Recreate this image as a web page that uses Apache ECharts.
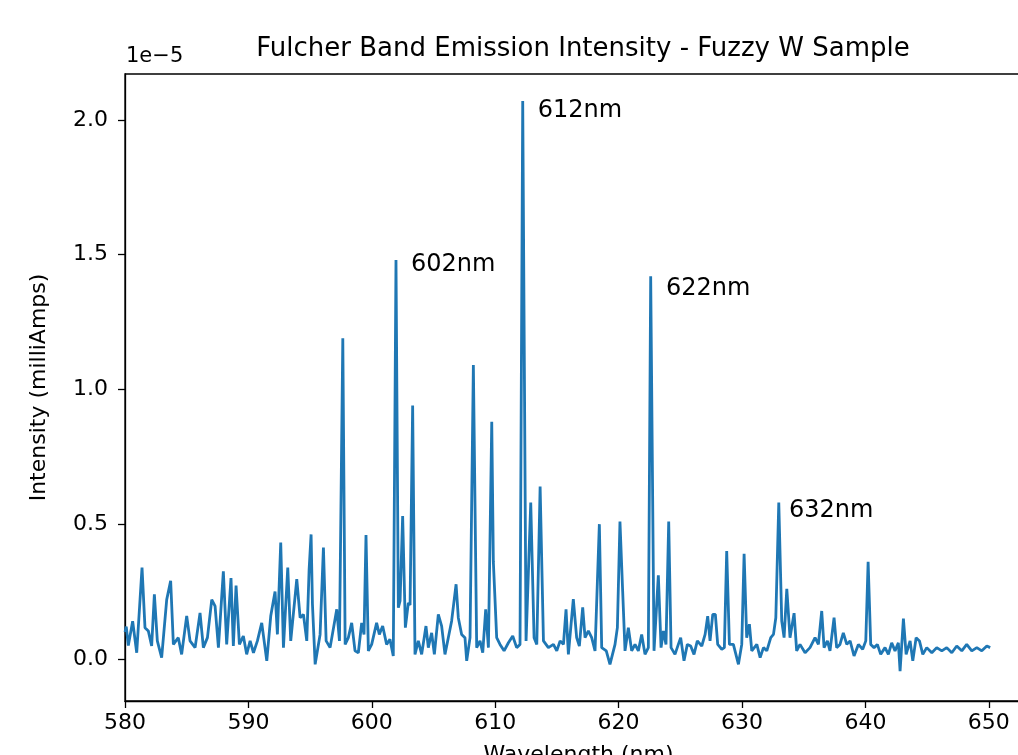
<!DOCTYPE html>
<html>
<head>
<meta charset="utf-8">
<script src="https://cdn.jsdelivr.net/npm/echarts@6/dist/echarts.min.js"></script>
<style>
html,body{margin:0;padding:0;background:#fff;}
#chart{width:1018px;height:755px;}
</style>
</head>
<body>
<div id="chart"></div>
<script>
// Wavelength (nm)
const wavelengths = [
580.0,580.1,580.27,580.62,580.95,581.38,581.62,581.89,582.16,582.38,582.62,582.97,583.38,583.7,583.92,584.32,584.59,585.0,585.27,585.68,
586.08,586.35,586.68,587.03,587.3,587.57,587.97,588.24,588.59,588.78,589.0,589.27,589.59,589.86,590.14,590.41,590.73,591.08,591.49,591.81,
592.16,592.35,592.62,592.84,593.19,593.43,593.92,594.19,594.46,594.73,594.92,595.08,595.19,595.41,595.81,596.08,596.3,596.62,597.16,597.38,
597.65,597.84,598.1,598.37,598.64,598.91,599.18,599.37,599.53,599.72,599.99,600.39,600.61,600.88,601.2,601.47,601.74,601.96,602.15,602.29,
602.5,602.72,602.96,603.1,603.31,603.5,603.77,604.04,604.39,604.58,604.85,605.07,605.39,605.66,605.93,606.2,606.47,606.83,607.01,607.28,
607.55,607.69,607.96,608.23,608.5,608.77,608.99,609.23,609.45,609.72,609.85,610.12,610.39,610.72,611.07,611.42,611.74,612.01,612.23,612.5,
612.88,613.15,613.37,613.64,613.91,614.31,614.72,614.99,615.26,615.53,615.74,615.93,616.33,616.6,616.82,617.09,617.28,617.55,617.82,618.09,
618.44,618.63,619.0,619.3,619.71,619.9,620.11,620.33,620.52,620.79,621.06,621.33,621.6,621.87,622.14,622.41,622.6,622.87,623.22,623.44,
623.63,623.84,624.06,624.25,624.57,624.84,625.03,625.3,625.57,625.84,626.11,626.38,626.74,627.01,627.22,627.41,627.63,627.84,628.03,628.36,
628.57,628.76,628.98,629.3,629.71,629.98,630.17,630.38,630.6,630.79,631.2,631.47,631.74,632.01,632.33,632.55,632.74,632.98,633.22,633.41,
633.63,633.89,634.22,634.43,634.7,635.11,635.51,635.92,636.19,636.46,636.65,636.92,637.13,637.46,637.67,637.94,638.21,638.49,638.76,639.08,
639.43,639.78,640.03,640.22,640.43,640.7,640.97,641.24,641.59,641.86,642.13,642.4,642.67,642.81,643.08,643.3,643.62,643.84,644.11,644.38,
644.65,644.97,645.38,645.78,646.19,646.59,647.0,647.4,647.81,648.21,648.62,649.03,649.43,649.84,650.11
];
// Intensity in units of 1e-5 milliAmps
const intensities = [
0.10,0.12,0.05,0.14,0.023,0.339,0.116,0.104,0.048,0.24,0.067,0.005,0.22,0.29,0.054,0.079,0.017,0.16,0.067,0.042,
0.171,0.042,0.079,0.22,0.196,0.042,0.325,0.054,0.30,0.048,0.272,0.054,0.085,0.017,0.067,0.023,0.067,0.134,-0.007,0.159,
0.25,0.091,0.432,0.042,0.339,0.067,0.296,0.153,0.165,0.067,0.332,0.462,0.203,-0.02,0.091,0.413,0.067,0.042,0.184,0.067,
1.19,0.054,0.079,0.134,0.030,0.023,0.134,0.091,0.46,0.030,0.054,0.134,0.091,0.122,0.054,0.073,0.011,1.48,0.19,0.215,
0.53,0.116,0.208,0.20,0.94,0.017,0.067,0.017,0.122,0.042,0.097,0.017,0.165,0.122,0.017,0.079,0.141,0.277,0.153,0.091,
0.079,-0.007,0.079,1.09,0.042,0.067,0.023,0.184,0.042,0.88,0.36,0.079,0.054,0.030,0.060,0.085,0.042,0.054,2.07,0.067,
0.58,0.079,0.054,0.64,0.067,0.042,0.054,0.030,0.067,0.054,0.184,0.017,0.222,0.079,0.048,0.191,0.079,0.104,0.079,0.030,
0.50,0.042,0.030,-0.02,0.054,0.116,0.51,0.25,0.030,0.116,0.030,0.054,0.030,0.091,0.017,0.042,1.42,0.030,0.31,0.042,
0.104,0.054,0.51,0.042,0.017,0.054,0.079,-0.007,0.054,0.048,0.017,0.067,0.048,0.091,0.159,0.067,0.165,0.165,0.054,0.036,
0.042,0.40,0.054,0.054,-0.02,0.054,0.39,0.079,0.129,0.030,0.054,0.005,0.042,0.030,0.079,0.091,0.153,0.58,0.141,0.079,
0.26,0.079,0.17,0.030,0.054,0.023,0.042,0.079,0.054,0.178,0.042,0.067,0.030,0.153,0.042,0.054,0.097,0.054,0.067,0.011,
0.054,0.036,0.067,0.36,0.054,0.042,0.054,0.017,0.042,0.017,0.060,0.030,0.060,-0.045,0.15,0.017,0.067,-0.007,0.079,0.067,
0.017,0.042,0.023,0.042,0.030,0.042,0.023,0.048,0.030,0.054,0.030,0.042,0.030,0.048,0.042
];
const xTicks = [580, 590, 600, 610, 620, 630, 640, 650];
const yTicks = [0, 0.5, 1.0, 1.5, 2.0];
const yTickLabels = ['0.0', '0.5', '1.0', '1.5', '2.0'];
const annotationLabels = ['602nm', '612nm', '622nm', '632nm'];
const annotationX = [603.18, 613.45, 623.84, 633.81];
const annotationY = [1.462, 2.033, 1.373, 0.549];

const FONT = 'DejaVu Sans';
const chart = echarts.init(document.getElementById('chart'), null, {renderer: 'canvas'});
const lineData = wavelengths.map((w, i) => [w, intensities[i]]);
const annData = annotationLabels.map((t, i) => ({value: [annotationX[i], annotationY[i]], name: t}));

chart.setOption({
  backgroundColor: '#ffffff',
  animation: false,
  title: {
    text: 'Fulcher Band Emission Intensity - Fuzzy W Sample',
    left: 578, top: 31, textAlign: 'center',
    textStyle: {fontFamily: FONT, fontSize: 26, fontWeight: 'normal', color: '#000'}
  },
  graphic: [{
    type: 'text', left: 126, top: 46,
    style: {text: '1e\u22125', font: '21px "DejaVu Sans"', fill: '#000'}
  }],
  grid: {left: 125, top: 74, width: 907, height: 627, outerBoundsMode: 'none', containLabel: false,
    show: true, borderColor: '#000', borderWidth: 1.3, backgroundColor: 'transparent'},
  xAxis: {
    type: 'value', min: 580, max: 653.5,
    name: 'Wavelength (nm)', nameLocation: 'middle', nameGap: 43,
    nameTextStyle: {fontFamily: FONT, fontSize: 22, color: '#000'},
    axisLine: {show: true, onZero: false, lineStyle: {color: '#000', width: 1.3}},
    axisTick: {show: true, length: 7, inside: false, customValues: xTicks, lineStyle: {color: '#000', width: 1.3}},
    axisLabel: {fontFamily: FONT, fontSize: 22, color: '#000', margin: 11, customValues: xTicks, formatter: v => String(Math.round(v))},
    splitLine: {show: false}
  },
  yAxis: {
    type: 'value', min: -0.156, max: 2.17,
    name: 'Intensity (milliAmps)', nameLocation: 'middle', nameGap: 75,
    nameTextStyle: {fontFamily: FONT, fontSize: 22, color: '#000'},
    axisLine: {show: true, onZero: false, lineStyle: {color: '#000', width: 1.3}},
    axisTick: {show: true, length: 7, inside: false, customValues: yTicks, lineStyle: {color: '#000', width: 1.3}},
    axisLabel: {fontFamily: FONT, fontSize: 22, color: '#000', margin: 17, customValues: yTicks,
      formatter: v => { const i = yTicks.findIndex(t => Math.abs(t - v) < 1e-9); return i >= 0 ? yTickLabels[i] : ''; }},
    splitLine: {show: false}
  },
  series: [{
    type: 'line', data: lineData, showSymbol: false, symbol: 'none',
    lineStyle: {color: '#1f77b4', width: 2.8}, clip: true, z: 2
  }, {
    type: 'scatter', data: annData, symbolSize: 0, silent: true, z: 3,
    itemStyle: {opacity: 1},
    label: {show: true, position: 'right', distance: 0, formatter: p => p.name,
      fontFamily: FONT, fontSize: 24, color: '#000', opacity: 1, align: 'left', verticalAlign: 'middle'}
  }]
});
</script>
</body>
</html>
